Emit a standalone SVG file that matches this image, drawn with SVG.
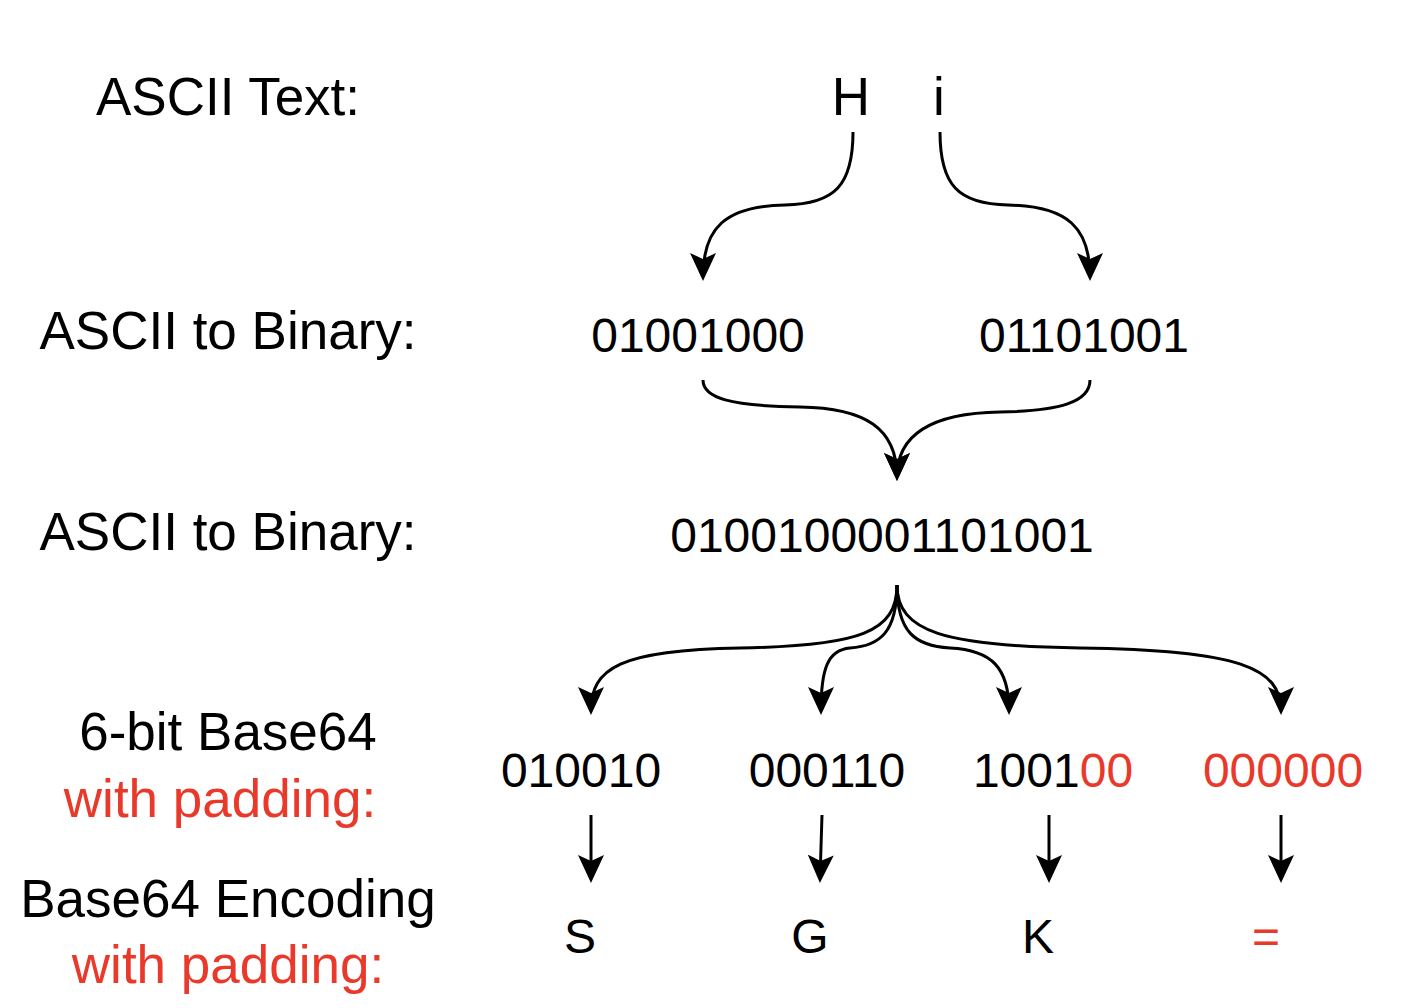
<svg xmlns="http://www.w3.org/2000/svg" width="1428" height="1008" viewBox="0 0 1428 1008">
<style>
text{font-family:"Liberation Sans",Arial,sans-serif;fill:#000}
.lbl{font-size:53px;text-anchor:middle}
.num{font-size:48px;text-anchor:middle}
.red{fill:#e8392b}
.edge{fill:none;stroke:#000;stroke-width:3}
</style>
<defs>
<marker id="ah" markerUnits="userSpaceOnUse" markerWidth="28" markerHeight="28" viewBox="0 0 28 28" refX="24" refY="14" orient="auto">
<path d="M0 1 L28 14 L0 27 L6 14 Z" fill="#000"/>
</marker>
</defs>
<rect width="1428" height="1008" fill="#fff"/>
<g id="labels">
<text class="lbl" x="228" y="115">ASCII Text:</text>
<text class="lbl" x="228" y="349">ASCII to Binary:</text>
<text class="lbl" x="228" y="550">ASCII to Binary:</text>
<text class="lbl" x="228" y="750">6-bit Base64</text>
<text class="lbl red" x="220" y="817">with padding:</text>
<text class="lbl" x="228" y="917">Base64 Encoding</text>
<text class="lbl red" x="228" y="983">with padding:</text>
</g>
<g id="node-H"><text class="lbl" x="851" y="115">H</text></g>
<g id="node-i"><text class="lbl" x="939" y="115">i</text></g>
<g id="node-bin-H"><text class="num" x="698" y="352">01001000</text></g>
<g id="node-bin-i"><text class="num" x="1084" y="352">01101001</text></g>
<g id="node-bin-all"><text class="num" x="882" y="552">0100100001101001</text></g>
<g id="node-b1"><text class="num" x="581" y="787">010010</text></g>
<g id="node-b2"><text class="num" x="827" y="787">000110</text></g>
<g id="node-b3"><text class="num" x="1053" y="787">1001<tspan class="red">00</tspan></text></g>
<g id="node-b4"><text class="num red" x="1283" y="787">000000</text></g>
<g id="node-S"><text class="num" x="580" y="953">S</text></g>
<g id="node-G"><text class="num" x="810" y="953">G</text></g>
<g id="node-K"><text class="num" x="1038" y="953">K</text></g>
<g id="node-eq"><text class="num red" x="1266" y="953">=</text></g>
<g id="connectors">
<path class="edge" marker-end="url(#ah)" d="M853 132 C853 185, 835 204, 785 205 C725 206, 703 228, 703 277"/>
<path class="edge" marker-end="url(#ah)" d="M940 132 C940 185, 958 204, 1008 205 C1068 206, 1090 228, 1090 277"/>
<path class="edge" marker-end="url(#ah)" d="M703 380 C703 398, 730 406, 800 407 C865 408, 897 428, 897 477"/>
<path class="edge" marker-end="url(#ah)" d="M1090 380 C1090 402, 1060 411, 1000 412 C935 413, 897 432, 897 477"/>
<path class="edge" marker-end="url(#ah)" d="M897 585 C897 632, 860 646, 740 648 C620 650, 591 668, 591 711"/>
<path class="edge" marker-end="url(#ah)" d="M897 585 C897 632, 880 646, 850 648 C828 650, 821 668, 821 711"/>
<path class="edge" marker-end="url(#ah)" d="M897 585 C897 632, 915 646, 950 648 C992 650, 1009 668, 1009 711"/>
<path class="edge" marker-end="url(#ah)" d="M897 585 C897 632, 945 646, 1080 648 C1240 650, 1281 668, 1281 711"/>
<path class="edge" marker-end="url(#ah)" d="M591 815 L591 879"/>
<path class="edge" marker-end="url(#ah)" d="M822 815 L820 879"/>
<path class="edge" marker-end="url(#ah)" d="M1049 815 L1049 879"/>
<path class="edge" marker-end="url(#ah)" d="M1281 815 L1281 879"/>
</g>
</svg>
